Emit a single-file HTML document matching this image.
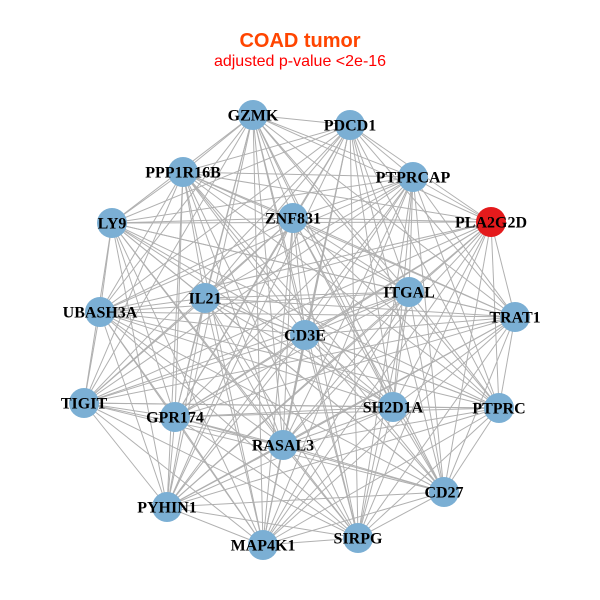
<!DOCTYPE html>
<html><head><meta charset="utf-8"><style>
html,body{margin:0;padding:0;background:#fff;}
svg{display:block;}
</style></head><body>
<svg id="g" width="600" height="600" viewBox="0 0 600 600" xmlns="http://www.w3.org/2000/svg">
<rect width="600" height="600" fill="#fff"/>
<text x="300" y="47" text-anchor="middle" font-family="Liberation Sans, sans-serif" font-weight="bold" font-size="20" fill="#FF4500">COAD tumor</text>
<text x="300" y="66" text-anchor="middle" font-family="Liberation Sans, sans-serif" font-size="16" fill="#FF0000">adjusted p-value &lt;2e-16</text>
<g stroke="#b0b0b0" stroke-width="1">
<line x1="253" y1="115" x2="350" y2="125"/><line x1="253" y1="115" x2="183" y2="172"/><line x1="253" y1="115" x2="413" y2="177"/><line x1="253" y1="115" x2="491" y2="222"/><line x1="253" y1="115" x2="112" y2="223"/><line x1="253" y1="115" x2="293" y2="218"/><line x1="253" y1="115" x2="205" y2="298"/><line x1="253" y1="115" x2="409" y2="292"/><line x1="253" y1="115" x2="100" y2="312"/><line x1="253" y1="115" x2="515" y2="317"/><line x1="253" y1="115" x2="305" y2="335"/><line x1="253" y1="115" x2="84" y2="403"/><line x1="253" y1="115" x2="175" y2="417"/><line x1="253" y1="115" x2="393" y2="407"/><line x1="253" y1="115" x2="499" y2="408"/><line x1="253" y1="115" x2="283" y2="445"/><line x1="253" y1="115" x2="444" y2="492"/><line x1="253" y1="115" x2="167" y2="507"/><line x1="253" y1="115" x2="263" y2="545"/><line x1="253" y1="115" x2="358" y2="538"/>
<line x1="350" y1="125" x2="183" y2="172"/><line x1="350" y1="125" x2="413" y2="177"/><line x1="350" y1="125" x2="491" y2="222"/><line x1="350" y1="125" x2="112" y2="223"/><line x1="350" y1="125" x2="293" y2="218"/><line x1="350" y1="125" x2="205" y2="298"/><line x1="350" y1="125" x2="409" y2="292"/><line x1="350" y1="125" x2="100" y2="312"/><line x1="350" y1="125" x2="515" y2="317"/><line x1="350" y1="125" x2="305" y2="335"/><line x1="350" y1="125" x2="84" y2="403"/><line x1="350" y1="125" x2="175" y2="417"/><line x1="350" y1="125" x2="393" y2="407"/><line x1="350" y1="125" x2="499" y2="408"/><line x1="350" y1="125" x2="283" y2="445"/><line x1="350" y1="125" x2="444" y2="492"/><line x1="350" y1="125" x2="167" y2="507"/><line x1="350" y1="125" x2="263" y2="545"/><line x1="350" y1="125" x2="358" y2="538"/>
<line x1="183" y1="172" x2="413" y2="177"/><line x1="183" y1="172" x2="491" y2="222"/><line x1="183" y1="172" x2="112" y2="223"/><line x1="183" y1="172" x2="293" y2="218"/><line x1="183" y1="172" x2="205" y2="298"/><line x1="183" y1="172" x2="409" y2="292"/><line x1="183" y1="172" x2="100" y2="312"/><line x1="183" y1="172" x2="515" y2="317"/><line x1="183" y1="172" x2="305" y2="335"/><line x1="183" y1="172" x2="84" y2="403"/><line x1="183" y1="172" x2="175" y2="417"/><line x1="183" y1="172" x2="393" y2="407"/><line x1="183" y1="172" x2="499" y2="408"/><line x1="183" y1="172" x2="283" y2="445"/><line x1="183" y1="172" x2="444" y2="492"/><line x1="183" y1="172" x2="167" y2="507"/><line x1="183" y1="172" x2="263" y2="545"/><line x1="183" y1="172" x2="358" y2="538"/>
<line x1="413" y1="177" x2="491" y2="222"/><line x1="413" y1="177" x2="112" y2="223"/><line x1="413" y1="177" x2="293" y2="218"/><line x1="413" y1="177" x2="205" y2="298"/><line x1="413" y1="177" x2="409" y2="292"/><line x1="413" y1="177" x2="100" y2="312"/><line x1="413" y1="177" x2="515" y2="317"/><line x1="413" y1="177" x2="305" y2="335"/><line x1="413" y1="177" x2="84" y2="403"/><line x1="413" y1="177" x2="175" y2="417"/><line x1="413" y1="177" x2="393" y2="407"/><line x1="413" y1="177" x2="499" y2="408"/><line x1="413" y1="177" x2="283" y2="445"/><line x1="413" y1="177" x2="444" y2="492"/><line x1="413" y1="177" x2="167" y2="507"/><line x1="413" y1="177" x2="263" y2="545"/><line x1="413" y1="177" x2="358" y2="538"/>
<line x1="491" y1="222" x2="112" y2="223"/><line x1="491" y1="222" x2="293" y2="218"/><line x1="491" y1="222" x2="205" y2="298"/><line x1="491" y1="222" x2="409" y2="292"/><line x1="491" y1="222" x2="100" y2="312"/><line x1="491" y1="222" x2="515" y2="317"/><line x1="491" y1="222" x2="305" y2="335"/><line x1="491" y1="222" x2="84" y2="403"/><line x1="491" y1="222" x2="175" y2="417"/><line x1="491" y1="222" x2="393" y2="407"/><line x1="491" y1="222" x2="499" y2="408"/><line x1="491" y1="222" x2="283" y2="445"/><line x1="491" y1="222" x2="444" y2="492"/><line x1="491" y1="222" x2="167" y2="507"/><line x1="491" y1="222" x2="263" y2="545"/><line x1="491" y1="222" x2="358" y2="538"/>
<line x1="112" y1="223" x2="293" y2="218"/><line x1="112" y1="223" x2="205" y2="298"/><line x1="112" y1="223" x2="409" y2="292"/><line x1="112" y1="223" x2="100" y2="312"/><line x1="112" y1="223" x2="515" y2="317"/><line x1="112" y1="223" x2="305" y2="335"/><line x1="112" y1="223" x2="84" y2="403"/><line x1="112" y1="223" x2="175" y2="417"/><line x1="112" y1="223" x2="393" y2="407"/><line x1="112" y1="223" x2="499" y2="408"/><line x1="112" y1="223" x2="283" y2="445"/><line x1="112" y1="223" x2="444" y2="492"/><line x1="112" y1="223" x2="167" y2="507"/><line x1="112" y1="223" x2="263" y2="545"/><line x1="112" y1="223" x2="358" y2="538"/>
<line x1="293" y1="218" x2="205" y2="298"/><line x1="293" y1="218" x2="409" y2="292"/><line x1="293" y1="218" x2="100" y2="312"/><line x1="293" y1="218" x2="515" y2="317"/><line x1="293" y1="218" x2="305" y2="335"/><line x1="293" y1="218" x2="84" y2="403"/><line x1="293" y1="218" x2="175" y2="417"/><line x1="293" y1="218" x2="393" y2="407"/><line x1="293" y1="218" x2="499" y2="408"/><line x1="293" y1="218" x2="283" y2="445"/><line x1="293" y1="218" x2="444" y2="492"/><line x1="293" y1="218" x2="167" y2="507"/><line x1="293" y1="218" x2="263" y2="545"/><line x1="293" y1="218" x2="358" y2="538"/>
<line x1="205" y1="298" x2="409" y2="292"/><line x1="205" y1="298" x2="100" y2="312"/><line x1="205" y1="298" x2="515" y2="317"/><line x1="205" y1="298" x2="305" y2="335"/><line x1="205" y1="298" x2="84" y2="403"/><line x1="205" y1="298" x2="175" y2="417"/><line x1="205" y1="298" x2="393" y2="407"/><line x1="205" y1="298" x2="499" y2="408"/><line x1="205" y1="298" x2="283" y2="445"/><line x1="205" y1="298" x2="444" y2="492"/><line x1="205" y1="298" x2="167" y2="507"/><line x1="205" y1="298" x2="263" y2="545"/><line x1="205" y1="298" x2="358" y2="538"/>
<line x1="409" y1="292" x2="100" y2="312"/><line x1="409" y1="292" x2="515" y2="317"/><line x1="409" y1="292" x2="305" y2="335"/><line x1="409" y1="292" x2="84" y2="403"/><line x1="409" y1="292" x2="175" y2="417"/><line x1="409" y1="292" x2="393" y2="407"/><line x1="409" y1="292" x2="499" y2="408"/><line x1="409" y1="292" x2="283" y2="445"/><line x1="409" y1="292" x2="444" y2="492"/><line x1="409" y1="292" x2="167" y2="507"/><line x1="409" y1="292" x2="263" y2="545"/><line x1="409" y1="292" x2="358" y2="538"/>
<line x1="100" y1="312" x2="515" y2="317"/><line x1="100" y1="312" x2="305" y2="335"/><line x1="100" y1="312" x2="84" y2="403"/><line x1="100" y1="312" x2="175" y2="417"/><line x1="100" y1="312" x2="393" y2="407"/><line x1="100" y1="312" x2="499" y2="408"/><line x1="100" y1="312" x2="283" y2="445"/><line x1="100" y1="312" x2="444" y2="492"/><line x1="100" y1="312" x2="167" y2="507"/><line x1="100" y1="312" x2="263" y2="545"/><line x1="100" y1="312" x2="358" y2="538"/>
<line x1="515" y1="317" x2="305" y2="335"/><line x1="515" y1="317" x2="84" y2="403"/><line x1="515" y1="317" x2="175" y2="417"/><line x1="515" y1="317" x2="393" y2="407"/><line x1="515" y1="317" x2="499" y2="408"/><line x1="515" y1="317" x2="283" y2="445"/><line x1="515" y1="317" x2="444" y2="492"/><line x1="515" y1="317" x2="167" y2="507"/><line x1="515" y1="317" x2="263" y2="545"/><line x1="515" y1="317" x2="358" y2="538"/>
<line x1="305" y1="335" x2="84" y2="403"/><line x1="305" y1="335" x2="175" y2="417"/><line x1="305" y1="335" x2="393" y2="407"/><line x1="305" y1="335" x2="499" y2="408"/><line x1="305" y1="335" x2="283" y2="445"/><line x1="305" y1="335" x2="444" y2="492"/><line x1="305" y1="335" x2="167" y2="507"/><line x1="305" y1="335" x2="263" y2="545"/><line x1="305" y1="335" x2="358" y2="538"/>
<line x1="84" y1="403" x2="175" y2="417"/><line x1="84" y1="403" x2="393" y2="407"/><line x1="84" y1="403" x2="499" y2="408"/><line x1="84" y1="403" x2="283" y2="445"/><line x1="84" y1="403" x2="444" y2="492"/><line x1="84" y1="403" x2="167" y2="507"/><line x1="84" y1="403" x2="263" y2="545"/><line x1="84" y1="403" x2="358" y2="538"/>
<line x1="175" y1="417" x2="393" y2="407"/><line x1="175" y1="417" x2="499" y2="408"/><line x1="175" y1="417" x2="283" y2="445"/><line x1="175" y1="417" x2="444" y2="492"/><line x1="175" y1="417" x2="167" y2="507"/><line x1="175" y1="417" x2="263" y2="545"/><line x1="175" y1="417" x2="358" y2="538"/>
<line x1="393" y1="407" x2="499" y2="408"/><line x1="393" y1="407" x2="283" y2="445"/><line x1="393" y1="407" x2="444" y2="492"/><line x1="393" y1="407" x2="167" y2="507"/><line x1="393" y1="407" x2="263" y2="545"/><line x1="393" y1="407" x2="358" y2="538"/>
<line x1="499" y1="408" x2="283" y2="445"/><line x1="499" y1="408" x2="444" y2="492"/><line x1="499" y1="408" x2="167" y2="507"/><line x1="499" y1="408" x2="263" y2="545"/><line x1="499" y1="408" x2="358" y2="538"/>
<line x1="283" y1="445" x2="444" y2="492"/><line x1="283" y1="445" x2="167" y2="507"/><line x1="283" y1="445" x2="263" y2="545"/><line x1="283" y1="445" x2="358" y2="538"/>
<line x1="444" y1="492" x2="167" y2="507"/><line x1="444" y1="492" x2="263" y2="545"/><line x1="444" y1="492" x2="358" y2="538"/>
<line x1="167" y1="507" x2="263" y2="545"/><line x1="167" y1="507" x2="358" y2="538"/>
<line x1="263" y1="545" x2="358" y2="538"/>
</g>
<g fill="#7BAFD4">
<circle cx="253" cy="115" r="15"/><circle cx="350" cy="125" r="15"/><circle cx="183" cy="172" r="15"/><circle cx="413" cy="177" r="15"/>
<circle cx="491" cy="222" r="15" fill="#E41A1C"/>
<circle cx="112" cy="223" r="15"/><circle cx="293" cy="218" r="15"/><circle cx="205" cy="298" r="15"/><circle cx="409" cy="292" r="15"/>
<circle cx="100" cy="312" r="15"/><circle cx="515" cy="317" r="15"/><circle cx="305" cy="335" r="15"/><circle cx="84" cy="403" r="15"/>
<circle cx="175" cy="417" r="15"/><circle cx="393" cy="407" r="15"/><circle cx="499" cy="408" r="15"/><circle cx="283" cy="445" r="15"/>
<circle cx="444" cy="492" r="15"/><circle cx="167" cy="507" r="15"/><circle cx="263" cy="545" r="15"/><circle cx="358" cy="538" r="15"/>
</g>
<g font-family="Liberation Serif, serif" font-weight="bold" font-size="16" fill="#000" text-anchor="middle">
<text x="253" y="120.5">GZMK</text><text x="350" y="130.5">PDCD1</text><text x="183" y="177.5">PPP1R16B</text><text x="413" y="182.5">PTPRCAP</text>
<text x="491" y="227.5">PLA2G2D</text><text x="112" y="228.5">LY9</text><text x="293" y="223.5">ZNF831</text><text x="205" y="303.5">IL21</text>
<text x="409" y="297.5">ITGAL</text><text x="100" y="317.5">UBASH3A</text><text x="515" y="322.5">TRAT1</text><text x="305" y="340.5">CD3E</text>
<text x="84" y="408.5">TIGIT</text><text x="175" y="422.5">GPR174</text><text x="393" y="412.5">SH2D1A</text><text x="499" y="413.5">PTPRC</text>
<text x="283" y="450.5">RASAL3</text><text x="444" y="497.5">CD27</text><text x="167" y="512.5">PYHIN1</text><text x="263" y="550.5">MAP4K1</text>
<text x="358" y="543.5">SIRPG</text>
</g>
</svg>
</body></html>
